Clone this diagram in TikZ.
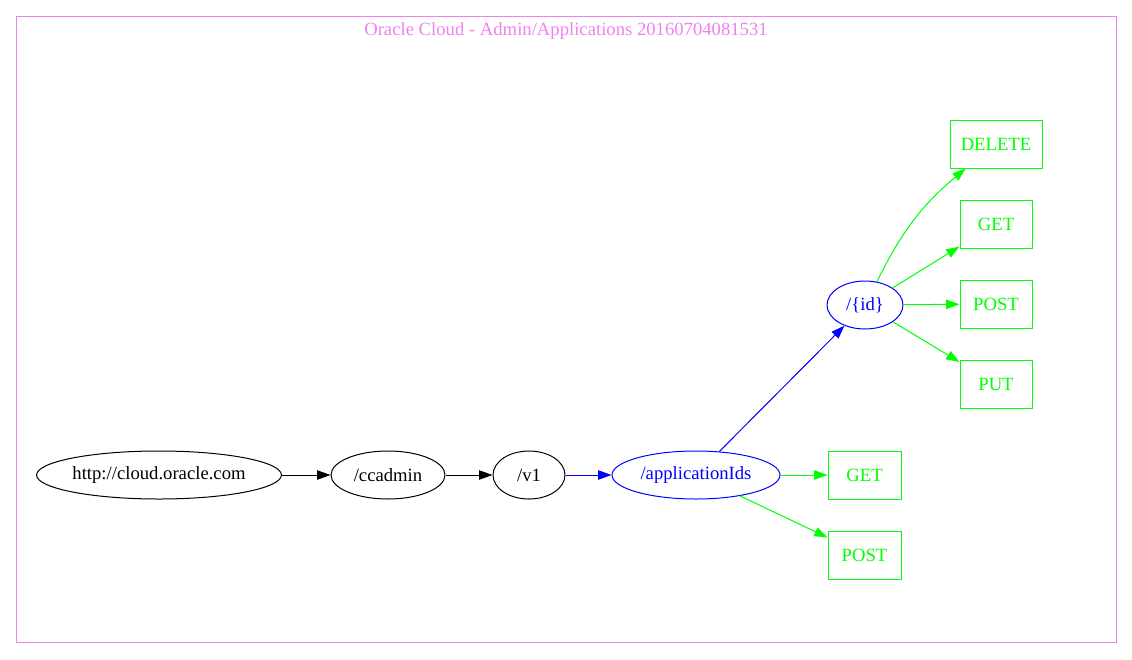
\documentclass[tikz,border=0pt]{standalone}
\usepackage{fontspec}
\setmainfont{Liberation Serif}
\usepackage{tikz}
\usetikzlibrary{shapes.geometric,arrows.meta}
\definecolor{gvviolet}{HTML}{EE82EE}
\definecolor{gvgreen}{HTML}{00FF00}
\definecolor{gvblue}{HTML}{0000FF}

\begin{document}
\begin{tikzpicture}[x=1pt, y=-1pt, line width=1pt,
    font=\fontsize{18.67}{22}\selectfont,
    pathnode/.style={ellipse, draw, inner sep=0pt, minimum height=48pt},
    verbnode/.style={rectangle, draw=gvgreen, text=gvgreen, inner sep=0pt, minimum height=48pt, minimum width=72pt},
    link/.style={-{Triangle[length=13.3pt, width=9.3pt]}}]
    \useasboundingbox (0,0) rectangle (1132,659);

    % Cluster frame
    \draw[gvviolet] (16,16) rectangle (1116,642);
    \node[text=gvviolet] (title) at (566,31) {Oracle Cloud - Admin/Applications 20160704081531};

    % Path nodes
    \node[pathnode, minimum width=244pt] (root) at (159,475) {http://cloud.oracle.com};
    \node[pathnode, minimum width=114pt] (ccadmin) at (388,475) {/ccadmin};
    \node[pathnode, minimum width=72pt] (v1) at (529,475) {/v1};
    \node[pathnode, draw=gvblue, text=gvblue, minimum width=168pt] (appids) at (696,475) {/applicationIds};
    \node[pathnode, draw=gvblue, text=gvblue, minimum width=76pt] (id) at (865,305) {/\{id\}};

    % Methods
    \node[verbnode, minimum width=73pt] (appget) at (864.5,475) {GET};
    \node[verbnode, minimum width=73pt] (apppost) at (864.5,555) {POST};
    \node[verbnode, minimum width=92pt] (iddelete) at (996,144) {DELETE};
    \node[verbnode] (idget) at (996,224) {GET};
    \node[verbnode] (idpost) at (996,304) {POST};
    \node[verbnode] (idput) at (996,384) {PUT};

    % Edges
    \draw[link] (root) -- (ccadmin);
    \draw[link] (ccadmin) -- (v1);
    \draw[link, gvblue] (v1) -- (appids);
    \draw[link, gvblue] (appids) -- (id);
    \draw[link, gvgreen] (appids) -- (appget);
    \draw[link, gvgreen] (appids) -- (apppost);
    \draw[link, gvgreen] (id) to[bend left=12] (iddelete);
    \draw[link, gvgreen] (id) -- (idget);
    \draw[link, gvgreen] (id) -- (idpost);
    \draw[link, gvgreen] (id) -- (idput);
\end{tikzpicture}
\end{document}
